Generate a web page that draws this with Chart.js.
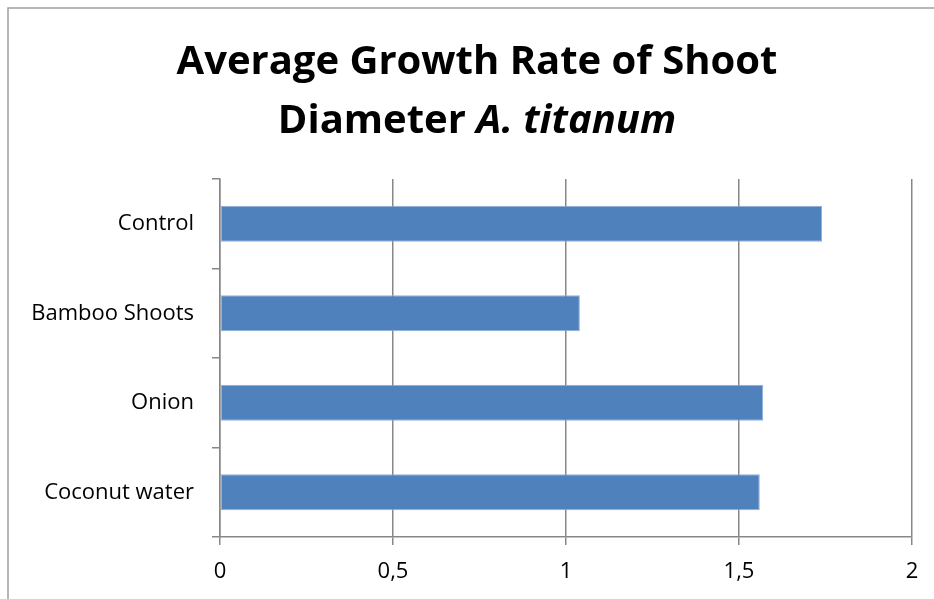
<!DOCTYPE html>
<html>
<head>
<meta charset="utf-8">
<script src="https://cdn.jsdelivr.net/npm/chart.js@4"></script>
<style>
  html, body { margin: 0; padding: 0; background: #fff; overflow: hidden; }
  #wrap { width: 934px; height: 599px; }
</style>
</head>
<body>
<div id="wrap"><canvas id="chart"></canvas></div>
<script>
// data
var categories = ['Control', 'Bamboo Shoots', 'Onion', 'Coconut water'];
var growthRate = [1.74, 1.04, 1.57, 1.56];
var xTicks = ['0', '0,5', '1', '1,5', '2'];

var titleLine1 = 'Average Growth Rate of Shoot';
var titleLine2a = 'Diameter ';
var titleLine2b = 'A. titanum';

// frame (top and left only) and two-line title, second line partly italic
var titlePlugin = {
  id: 'titlePlugin',
  beforeDraw: function (chart) {
    var c = chart.ctx;
    c.save();
    c.fillStyle = '#fff';
    c.fillRect(0, 0, chart.width, chart.height);
    c.strokeStyle = '#a0a0a0';
    c.lineWidth = 1.5;
    c.beginPath();
    c.moveTo(8, chart.height);
    c.lineTo(8, 8);
    c.lineTo(chart.width, 8);
    c.stroke();
    c.restore();
  },
  afterDraw: function (chart) {
    var c = chart.ctx;
    var cx = 477;
    c.save();
    c.fillStyle = '#000';
    c.textBaseline = 'alphabetic';
    c.textAlign = 'left';
    c.font = 'bold 40px "Open Sans"';
    var w1 = c.measureText(titleLine1).width;
    c.fillText(titleLine1, cx - w1 / 2, 74);
    var wa = c.measureText(titleLine2a).width;
    c.font = 'italic bold 40px "Open Sans"';
    var wb = c.measureText(titleLine2b).width;
    var x0 = cx - (wa + wb) / 2;
    c.font = 'bold 40px "Open Sans"';
    c.fillText(titleLine2a, x0, 133);
    c.font = 'italic bold 40px "Open Sans"';
    c.fillText(titleLine2b, x0 + wa, 133);
    c.restore();
  }
};

var ctx = document.getElementById('chart').getContext('2d');
var myChart = new Chart(ctx, {
  type: 'bar',
  data: {
    labels: categories,
    datasets: [{
      label: 'Growth rate',
      data: growthRate,
      backgroundColor: '#4f81bd',
      borderColor: '#8fb0d8',
      borderWidth: 1,
      borderSkipped: false,
      barPercentage: 0.4,
      categoryPercentage: 1
    }]
  },
  plugins: [titlePlugin],
  options: {
    indexAxis: 'y',
    responsive: true,
    maintainAspectRatio: false,
    animation: false,
    layout: { padding: { top: 179, right: 22, left: 0, bottom: 0 } },
    plugins: {
      legend: { display: false },
      title: { display: false },
      tooltip: { enabled: false }
    },
    scales: {
      x: {
        min: 0,
        max: 2,
        ticks: {
          stepSize: 0.5,
          color: '#000',
          padding: 14,
          font: { family: 'Open Sans', size: 22 },
          callback: function (value, i) {
            return xTicks[i];
          }
        },
        grid: { color: '#878787', lineWidth: 1.5, tickLength: 8 },
        border: { color: '#878787', width: 1.5 },
        afterFit: function (scale) { scale.height = 62; }
      },
      y: {
        ticks: {
          color: '#000',
          padding: 18,
          font: { family: 'Open Sans', size: 22 }
        },
        grid: { offset: true, drawOnChartArea: false, color: '#878787', lineWidth: 1.5, tickLength: 8 },
        border: { color: '#878787', width: 1.5 },
        afterFit: function (scale) { scale.width = 220; }
      }
    }
  }
});
</script>
</body>
</html>
